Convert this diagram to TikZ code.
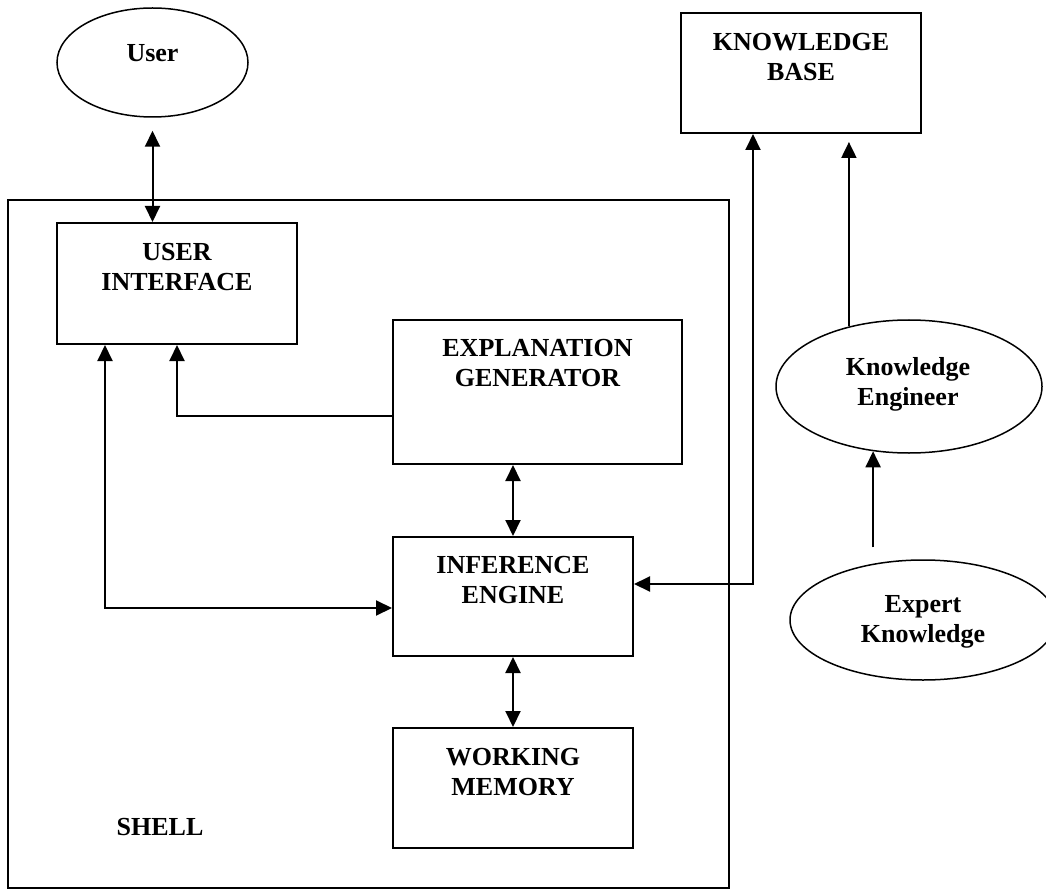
\documentclass[tikz,border=0pt]{standalone}
\usepackage{fontspec}
\setmainfont{Liberation Serif}
\usetikzlibrary{arrows.meta,shapes.geometric,calc}
\begin{document}
\begin{tikzpicture}[x=1pt,y=-1pt,line width=2pt,
  box/.style={draw,rectangle,inner sep=0pt,line width=2pt},
  oval/.style={draw,ellipse,inner sep=0pt,line width=1.5pt},
  lbl/.style={font=\fontsize{26}{30}\selectfont\bfseries,align=center,anchor=north,inner sep=0pt},
  tip/.tip={Triangle[length=16pt,width=15pt]},
  arr/.style={-tip},
  dbl/.style={tip-tip}]
\useasboundingbox (0,0) rectangle (1046,890);
\clip (0,0) rectangle (1046,890);

% shell frame and its components
\node[box,minimum width=721pt,minimum height=688pt] (shell) at (368.5,544) {};
\node[box,minimum width=240pt,minimum height=121pt] (ui) at (177,283.5) {};
\node[box,minimum width=289pt,minimum height=144pt] (eg) at (537.5,392) {};
\node[box,minimum width=240pt,minimum height=119pt] (ie) at (513,596.5) {};
\node[box,minimum width=240pt,minimum height=120pt] (wm) at (513,788) {};
\node[box,minimum width=240pt,minimum height=120pt] (kb) at (801,73) {};

% external actors
\node[oval,minimum width=191pt,minimum height=109pt] (user) at (152.5,62.5) {};
\node[oval,minimum width=266pt,minimum height=133pt] (ke) at (909,386.5) {};
\node[oval,minimum width=266pt,minimum height=120pt] (ek) at (923,620) {};

% labels
\node[lbl] (userT) at (152.5,43) {User};
\node[lbl] (uiT) at (177,242) {USER\\INTERFACE};
\node[lbl] (egT) at (537.5,338) {EXPLANATION\\GENERATOR};
\node[lbl] (ieT) at (513,555) {INFERENCE\\ENGINE};
\node[lbl] (wmT) at (513,747) {WORKING\\MEMORY};
\node[lbl] (kbT) at (801,32) {KNOWLEDGE\\BASE};
\node[lbl] (keT) at (908,356) {Knowledge\\Engineer};
\node[lbl] (ekT) at (923,594) {Expert\\Knowledge};
\node[lbl] (shellT) at (160,817) {SHELL};

% connectors
\draw[dbl] ([yshift=-13pt]user.south) -- (ui.north -| user.south);
\draw[arr] ([yshift=-24pt]eg.west) -| (ui.south);
\draw[dbl] ([xshift=-72pt]ui.south) |- ([yshift=-11.5pt]ie.west);
\draw[dbl] (eg.south -| ie.north) -- (ie.north);
\draw[dbl] (ie.south) -- (wm.north);
\draw[dbl] ([yshift=12.5pt]ie.east) -| ([xshift=-48pt]kb.south);
\draw[arr] (ke.135.5) -- ($(kb.south -| ke.135.5)+(0,8)$);
\draw[arr] ($(ek.north -| ke.-119.5)+(0,-12)$) -- (ke.-119.5);
\end{tikzpicture}
\end{document}
